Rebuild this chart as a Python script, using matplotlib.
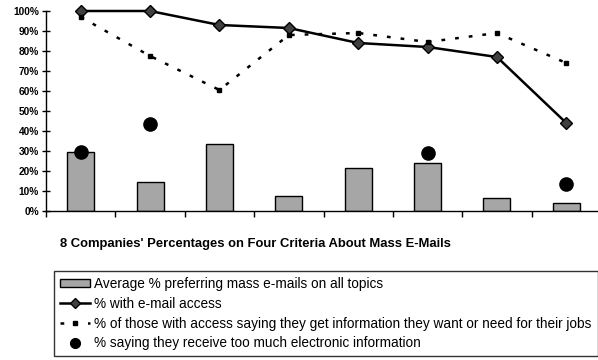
import numpy as np
import matplotlib
matplotlib.use('Agg')
import matplotlib.pyplot as plt
from matplotlib.patches import Patch
from matplotlib.lines import Line2D
plt.rcParams['font.family'] = 'sans-serif'
plt.rcParams['font.sans-serif'] = ['Liberation Sans', 'DejaVu Sans']

companies = ['1', '2', '3', '4', '5', '6', '7', '8']
prefer_mass = [29.5, 14.5, 33.5, 7.5, 21.5, 24, 6.5, 4]
email_access = [100, 100, 93, 91.5, 84, 82, 77, 44]
get_info = [97, 77.5, 60.5, 88, 89, 84.5, 89, 74]
too_much = [29.5, 43.5, np.nan, np.nan, np.nan, 29, np.nan, 13.5]
yticks = [0, 10, 20, 30, 40, 50, 60, 70, 80, 90, 100]

W, H = 598, 360
fig = plt.figure(figsize=(W/100, H/100), dpi=100)
ax = fig.add_axes([46/W, 149/H, 555/W, 200/H])
x = np.arange(len(companies))

ax.bar(x, prefer_mass, width=0.39, color='#a6a6a6', edgecolor='black', linewidth=1, zorder=2)
ax.plot(x, email_access, color='black', linewidth=1.8, marker='D', markersize=6,
        markerfacecolor='#404040', markeredgecolor='black', zorder=3, clip_on=False)
ax.plot(x, get_info, color='black', linewidth=1.8, linestyle=(0, (1.5, 4)),
        marker='s', markersize=3.5, markerfacecolor='black', zorder=3, clip_on=False)
ax.plot(x, too_much, linestyle='none', marker='o', markersize=9.5,
        markerfacecolor='black', markeredgecolor='black', zorder=4)

ax.set_xlim(-0.5, 7.5)
ax.set_ylim(0, 100)
ax.set_yticks(yticks)
ax.set_yticklabels([f'{t}%' for t in yticks], fontsize=7.3, fontweight='bold')
ax.set_xticks(np.arange(-0.5, 8, 1))
ax.set_xticklabels([])
ax.tick_params(axis='y', length=6, width=1, direction='inout', pad=2)
ax.tick_params(axis='x', length=4, width=1, direction='out')
ax.spines['top'].set_visible(False)
ax.spines['right'].set_visible(False)
ax.spines['left'].set_linewidth(1)
ax.spines['bottom'].set_linewidth(1)

fig.text(255/W, 1-244/H, "8 Companies' Percentages on Four Criteria About Mass E-Mails",
         ha='center', va='center', fontsize=9.4, fontweight='bold')

handles = [
    Patch(facecolor='#a6a6a6', edgecolor='black', linewidth=1),
    Line2D([], [], color='black', linewidth=1.8, marker='D', markersize=5,
           markerfacecolor='#404040'),
    Line2D([], [], color='black', linewidth=1.8, linestyle=(0, (1.5, 4)),
           marker='s', markersize=3.5),
    Line2D([], [], linestyle='none', marker='o', markersize=7, color='black'),
]
labels = ['Average % preferring mass e-mails on all topics',
          '% with e-mail access',
          '% of those with access saying they get information they want or need for their jobs',
          '% saying they receive too much electronic information']
leg = fig.legend(handles, labels, loc='upper left', bbox_to_anchor=(54/W, 1-271/H),
                 fontsize=9.8, frameon=True, fancybox=False, edgecolor='black',
                 borderpad=0.45, labelspacing=0.42, handlelength=2.2, handletextpad=0.3,
                 handleheight=0.5, borderaxespad=0)
leg.get_frame().set_linewidth(1)

fig.savefig('out.png', dpi=100)
